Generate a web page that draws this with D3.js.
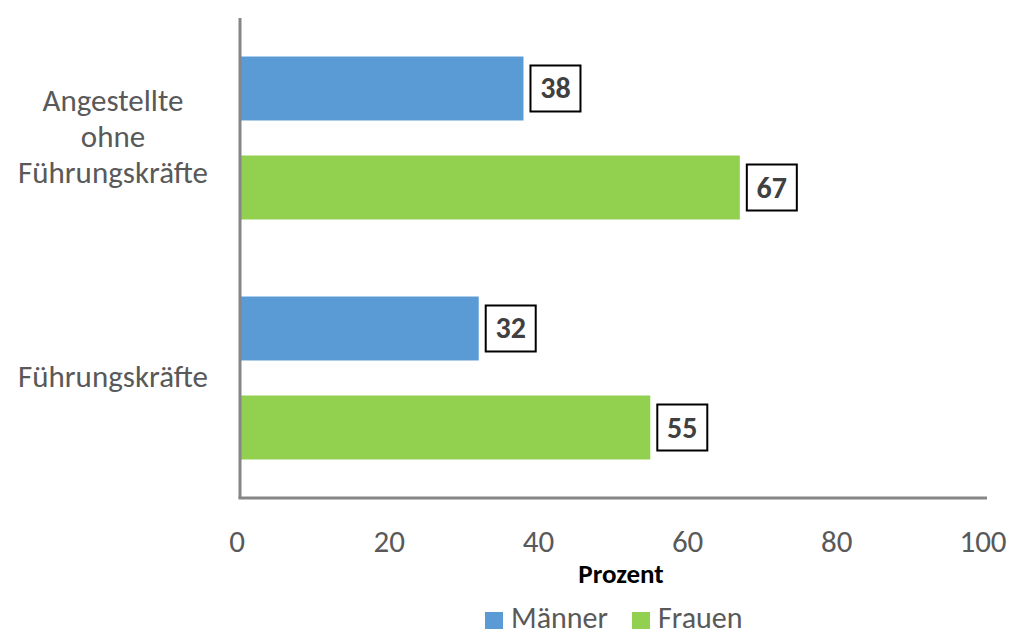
<!DOCTYPE html>
<html><head><meta charset="utf-8">
<script src="https://cdn.jsdelivr.net/npm/d3@7"></script>
<style>body{margin:0;background:#fff}svg{display:block;font-family:Carlito,'Open Sans',sans-serif}</style>
</head><body><svg id="c" width="1010" height="636"></svg>
<script>
const categories = ["Angestellte ohne Führungskräfte", "Führungskräfte"];
const categoryLines = [["Angestellte","ohne","Führungskräfte"],["Führungskräfte"]];
const series = ["Männer", "Frauen"];
const maenner = [38, 32];
const frauen = [67, 55];
const xTicks = [0, 20, 40, 60, 80, 100];
const xTitle = "Prozent";
const colors = {"Männer":"#5b9bd5","Frauen":"#92d050"};

const svg = d3.select("#c");
const x = d3.scaleLinear().domain([0,100]).range([240,986]);
const y0 = d3.scaleBand().domain(categories).range([18,498]);
const y1 = d3.scaleBand().domain(series).range([0,y0.bandwidth()]).paddingInner(0.354).paddingOuter(0.389);

const data = [];
categories.forEach((c,i)=>{
  data.push({cat:c, s:"Männer", v:maenner[i]});
  data.push({cat:c, s:"Frauen", v:frauen[i]});
});

svg.selectAll("rect.bar").data(data).enter().append("rect")
  .attr("class","bar")
  .attr("x",x(0)).attr("y",d=>y0(d.cat)+y1(d.s))
  .attr("width",d=>x(d.v)-x(0)).attr("height",y1.bandwidth())
  .attr("fill",d=>colors[d.s]);

// axes lines
svg.append("line").attr("x1",x(0)).attr("x2",x(0)).attr("y1",18).attr("y2",498)
  .attr("stroke","#868686").attr("stroke-width",3);
svg.append("line").attr("x1",x(0)-1.5).attr("x2",x(100)+1).attr("y1",498).attr("y2",498)
  .attr("stroke","#868686").attr("stroke-width",3);

// tick labels
svg.selectAll("text.tick").data(xTicks).enter().append("text")
  .attr("x",d=>x(d)-(d===0?3:d===100?3:0)).attr("y",552).attr("text-anchor","middle")
  .attr("font-size",31).attr("fill","#595959").text(d=>d);
svg.append("text").attr("x",621).attr("y",583).attr("text-anchor","middle")
  .attr("font-size",27).attr("font-weight","bold").attr("fill","#000").text(xTitle);

// category labels
categories.forEach((c,i)=>{
  const lines = categoryLines[i];
  const cy = y0(c)+y0.bandwidth()/2;
  const lh = 36;
  const t = svg.append("text").attr("text-anchor","middle").attr("font-size",31).attr("fill","#595959");
  lines.forEach((l,j)=>{
    t.append("tspan").attr("x",113).attr("y",cy+(j-(lines.length-1)/2)*lh+9).text(l);
  });
});

// value labels
const lab = svg.selectAll("g.lab").data(data).enter().append("g").attr("class","lab")
  .attr("transform",d=>`translate(${x(d.v)+7},${y0(d.cat)+y1(d.s)+y1.bandwidth()/2})`);
lab.append("rect").attr("x",0).attr("y",-23).attr("width",50).attr("height",46)
  .attr("fill","#fff").attr("stroke","#000").attr("stroke-width",2);
lab.append("text").attr("x",25).attr("y",10).attr("text-anchor","middle")
  .attr("font-size",30).attr("font-weight","bold").attr("fill","#404040").text(d=>d.v);

// legend
const leg = [{s:"Männer",x:485},{s:"Frauen",x:632}];
leg.forEach(l=>{
  svg.append("rect").attr("x",l.x).attr("y",612).attr("width",18).attr("height",17).attr("fill",colors[l.s]);
  svg.append("text").attr("x",l.x+26).attr("y",628).attr("font-size",30).attr("fill","#595959").text(l.s);
});
</script></body></html>
